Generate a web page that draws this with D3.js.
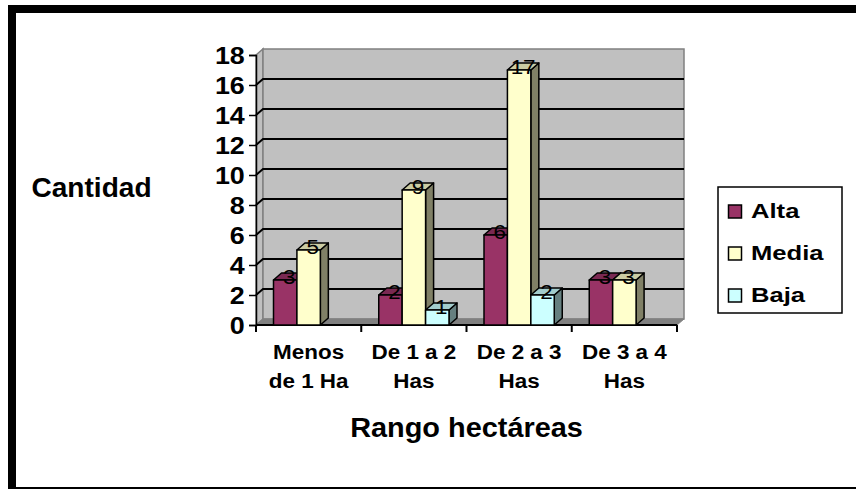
<!DOCTYPE html>
<html>
<head>
<meta charset="utf-8">
<script src="https://cdn.jsdelivr.net/npm/d3@7"></script>
<style>
  body { margin: 0; background: #fff; }
  svg { display: block; }
  text { font-family: "Liberation Sans", Arial, sans-serif; }
</style>
</head>
<body>
<script>
// ---- data ----
const categories = ["Menos de 1 Ha", "De 1 a 2 Has", "De 2 a 3 Has", "De 3 a 4 Has"];
const categoryLines = [["Menos", "de 1 Ha"], ["De 1 a 2", "Has"], ["De 2 a 3", "Has"], ["De 3 a 4", "Has"]];
const series = ["Alta", "Media", "Baja"];
const alta  = [3, 2, 6, 3];
const media = [5, 9, 17, 3];
const baja  = [null, 1, 2, null];
const yTicks = [0, 2, 4, 6, 8, 10, 12, 14, 16, 18];
const colors = ["#993366", "#FFFFCC", "#CCFFFF"];
const yTitle = "Cantidad";
const xTitle = "Rango hectáreas";

const values = [alta, media, baja];

const W = 856, H = 489;
const svg = d3.select("body").append("svg").attr("width", W).attr("height", H);

// outer border
svg.append("rect").attr("x", 12).attr("y", 9).attr("width", 880).attr("height", 482)
  .attr("fill", "#fff").attr("stroke", "#000").attr("stroke-width", 8);

const y = d3.scaleLinear().domain([0, 18]).range([325, 55]);
const x0 = d3.scaleBand().domain(categories).range([256, 677]);
const x1 = d3.scaleBand().domain(series).range([17.5, x0.bandwidth() - 17.5]);

const wd = { dx: 7, dy: -6 };   // wall depth
const bd = { dx: 8, dy: -7 };   // bar depth
const left = x0.range()[0], right = x0.range()[1];
const y0 = y(0), yTop = y(18);

function darker(c, k) {
  const r = d3.rgb(c);
  return d3.rgb(r.r * k, r.g * k, r.b * k).formatHex();
}

function txt(g, x, yy, s, size, weight, anchor, sx) {
  return g.append("text")
    .attr("transform", `translate(${x},${yy}) scale(${sx},1)`)
    .attr("text-anchor", anchor)
    .attr("font-size", size)
    .attr("font-weight", weight)
    .attr("fill", "#000")
    .text(s);
}

// walls and floor
const walls = svg.append("g");
walls.append("polygon")
  .attr("points", [[left, yTop], [left + wd.dx, yTop + wd.dy], [left + wd.dx, y0 + wd.dy], [left, y0]].join(" "))
  .attr("fill", "#C0C0C0").attr("stroke", "#808080").attr("stroke-width", 1.5);
walls.append("rect")
  .attr("x", left + wd.dx).attr("y", yTop + wd.dy)
  .attr("width", right - left).attr("height", y0 - yTop)
  .attr("fill", "#C0C0C0").attr("stroke", "#808080").attr("stroke-width", 1.5);
walls.append("polygon")
  .attr("points", [[left, y0], [right, y0], [right + wd.dx, y0 + wd.dy], [left + wd.dx, y0 + wd.dy]].join(" "))
  .attr("fill", "#808080").attr("stroke", "#808080").attr("stroke-width", 1);

// gridlines
walls.selectAll("polyline.grid").data(yTicks.filter(t => t > 0 && t < 18)).enter()
  .append("polyline").attr("class", "grid")
  .attr("points", t => [[left, y(t)], [left + wd.dx, y(t) + wd.dy], [right + wd.dx, y(t) + wd.dy]].join(" "))
  .attr("fill", "none").attr("stroke", "#000").attr("stroke-width", 2);

// y axis
const yAxis = svg.append("g").attr("transform", `translate(${left},0)`)
  .call(d3.axisLeft(y).tickValues(yTicks).tickSize(7).tickPadding(3));
yAxis.select(".domain").attr("stroke", "#000").attr("stroke-width", 1.5);
yAxis.selectAll(".tick line").attr("stroke", "#000").attr("stroke-width", 1.5);
yAxis.selectAll(".tick text")
  .attr("font-family", '"Liberation Sans", Arial, sans-serif')
  .attr("font-size", 24).attr("font-weight", "bold").attr("fill", "#000")
  .attr("dy", "0.37em")
  .attr("transform", "scale(1.12,1)");

// x axis
const xAxisG = svg.append("g");
xAxisG.append("line").attr("x1", left).attr("x2", right).attr("y1", y0).attr("y2", y0)
  .attr("stroke", "#000").attr("stroke-width", 2);
const bounds = categories.map(c => x0(c)).concat([right]);
xAxisG.selectAll("line.xt").data(bounds).enter().append("line").attr("class", "xt")
  .attr("x1", d => d).attr("x2", d => d).attr("y1", y0).attr("y2", y0 + 7)
  .attr("stroke", "#000").attr("stroke-width", 2);

// bars
const bars = svg.append("g");
const labels = [];
categories.forEach((c, ci) => {
  series.forEach((s, si) => {
    const v = values[si][ci];
    if (v == null) return;
    const bx = x0(c) + x1(s), bw = x1.bandwidth(), yt = y(v);
    const col = colors[si];
    const g = bars.append("g").attr("stroke", "#000").attr("stroke-width", 1.5).attr("stroke-linejoin", "round");
    g.append("polygon")
      .attr("points", [[bx + bw, yt], [bx + bw + bd.dx, yt + bd.dy], [bx + bw + bd.dx, y0 + bd.dy], [bx + bw, y0]].join(" "))
      .attr("fill", darker(col, 0.5));
    g.append("polygon")
      .attr("points", [[bx, yt], [bx + bw, yt], [bx + bw + bd.dx, yt + bd.dy], [bx + bd.dx, yt + bd.dy]].join(" "))
      .attr("fill", darker(col, 0.8));
    g.append("rect").attr("x", bx).attr("y", yt).attr("width", bw).attr("height", y0 - yt)
      .attr("fill", col);
    labels.push({ x: bx + bw / 2 + bd.dx / 2, y: yt + 3.5, v });
  });
});

// data labels
const lg = svg.append("g");
labels.forEach(d => txt(lg, d.x, d.y, String(d.v), 21, "normal", "middle", 1.07));

// category labels
const cg = svg.append("g");
categories.forEach((c, i) => {
  const cx = x0(c) + x0.bandwidth() / 2;
  txt(cg, cx, 359, categoryLines[i][0], 21, "bold", "middle", 1.07);
  txt(cg, cx, 388, categoryLines[i][1], 21, "bold", "middle", 1.07);
});

// titles
txt(svg, 91.5, 197, yTitle, 27, "bold", "middle", 1.04);
txt(svg, (left + right) / 2, 437, xTitle, 27, "bold", "middle", 1.07);

// legend
const leg = svg.append("g");
leg.append("rect").attr("x", 718).attr("y", 187).attr("width", 124).attr("height", 126)
  .attr("fill", "#fff").attr("stroke", "#000").attr("stroke-width", 1.5);
const legY = [218, 260, 302];
series.forEach((s, i) => {
  leg.append("rect").attr("x", 728.5).attr("y", legY[i] - 13).attr("width", 13).attr("height", 13)
    .attr("fill", colors[i]).attr("stroke", "#000").attr("stroke-width", 1.5);
  txt(leg, 751, legY[i], s, 21, "bold", "start", 1.22);
});
</script>
</body>
</html>
